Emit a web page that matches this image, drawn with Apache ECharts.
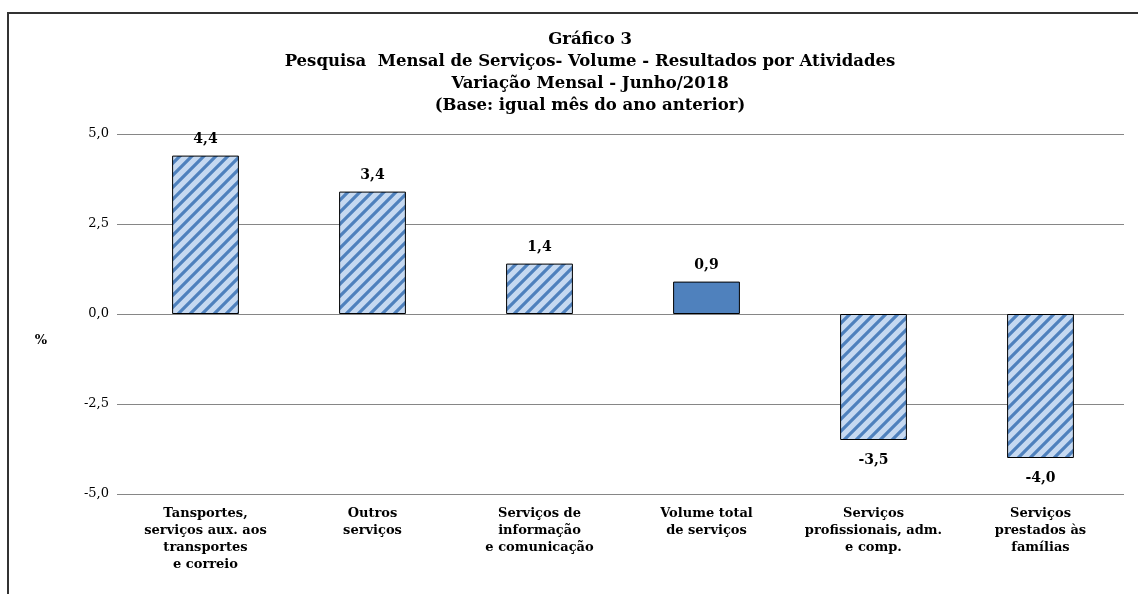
<!DOCTYPE html>
<html>
<head>
<meta charset="utf-8">
<script src="https://cdn.jsdelivr.net/npm/echarts@6/dist/echarts.min.js"></script>
<style>
  html, body { margin: 0; padding: 0; background: #fff; }
  #chart { width: 1138px; height: 594px; }
</style>
</head>
<body>
<div id="chart"></div>
<script>
// dados
const categorias = [
  'Tansportes,\nserviços aux. aos\ntransportes\ne correio',
  'Outros\nserviços',
  'Serviços de\ninformação\ne comunicação',
  'Volume total\nde serviços',
  'Serviços\nprofissionais, adm.\ne comp.',
  'Serviços\nprestados às\nfamílias'
]
const valores = [4.4, 3.4, 1.4, 0.9, -3.5, -4.0]
const ehTotal = [false, false, false, true, false, false]
const ticksY = [-5, -2.5, 0, 2.5, 5]

const titulo = [
  'Gráfico 3',
  'Pesquisa  Mensal de Serviços- Volume - Resultados por Atividades',
  'Variação Mensal - Junho/2018',
  '(Base: igual mês do ano anterior)'
]

const FONT = '"DejaVu Serif", serif'

// padrão de listras diagonais
function listras() {
  const s = 12
  const c = document.createElement('canvas')
  c.width = s; c.height = s
  const g = c.getContext('2d')
  g.fillStyle = '#c6d9f1'
  g.fillRect(0, 0, s, s)
  g.strokeStyle = '#4f81bd'
  g.lineWidth = 3.2
  g.beginPath()
  g.moveTo(-3, 3); g.lineTo(3, -3)
  g.moveTo(0, s); g.lineTo(s, 0)
  g.moveTo(s - 3, s + 3); g.lineTo(s + 3, s - 3)
  g.stroke()
  return c
}

const fmt = v => v.toFixed(1).replace('.', ',')

const chart = echarts.init(document.getElementById('chart'))
const pattern = { image: listras(), repeat: 'repeat' }

chart.setOption({
  animation: false,
  grid: { left: 122, right: 14, top: 134, bottom: 100 },
  graphic: [
    {
      type: 'polyline',
      shape: { points: [[8, 594], [8, 13], [1138, 13]] },
      style: { stroke: '#333', lineWidth: 2, fill: null }
    },
    {
      type: 'text', x: 590, y: 29,
      style: {
        text: titulo.join('\n'), textAlign: 'center',
        font: 'bold 16.5px ' + FONT, lineHeight: 22, fill: '#000'
      }
    },
    {
      type: 'text', x: 41, y: 341,
      style: { text: '%', textAlign: 'center', textVerticalAlign: 'middle',
        font: 'bold 13px ' + FONT, fill: '#000' }
    }
  ],
  xAxis: {
    type: 'category',
    data: categorias,
    axisLine: { show: false, onZero: false },
    axisTick: { show: false },
    axisLabel: {
      interval: 0, margin: 11, fontFamily: FONT, fontWeight: 'bold',
      fontSize: 13, lineHeight: 17, color: '#000'
    }
  },
  yAxis: {
    type: 'value',
    min: ticksY[0], max: ticksY[ticksY.length - 1], interval: 2.5,
    axisLine: { show: false },
    axisTick: { show: true, length: 5, lineStyle: { color: '#868686' } },
    splitLine: { lineStyle: { color: '#868686', width: 1 } },
    axisLabel: {
      formatter: fmt, fontFamily: FONT, fontSize: 13, color: '#000', margin: 13
    }
  },
  series: [{
    type: 'bar',
    barWidth: '40%',
    data: valores.map((v, i) => ({
      value: v,
      itemStyle: { color: ehTotal[i] ? '#4f81bd' : pattern },
      label: { position: v >= 0 ? 'top' : 'bottom', distance: v >= 0 ? 9 : 13 }
    })),
    itemStyle: { borderColor: '#000', borderWidth: 1 },
    label: {
      show: true, formatter: p => fmt(p.value),
      fontFamily: FONT, fontWeight: 'bold', fontSize: 14, color: '#000'
    }
  }]
})
</script>
</body>
</html>
